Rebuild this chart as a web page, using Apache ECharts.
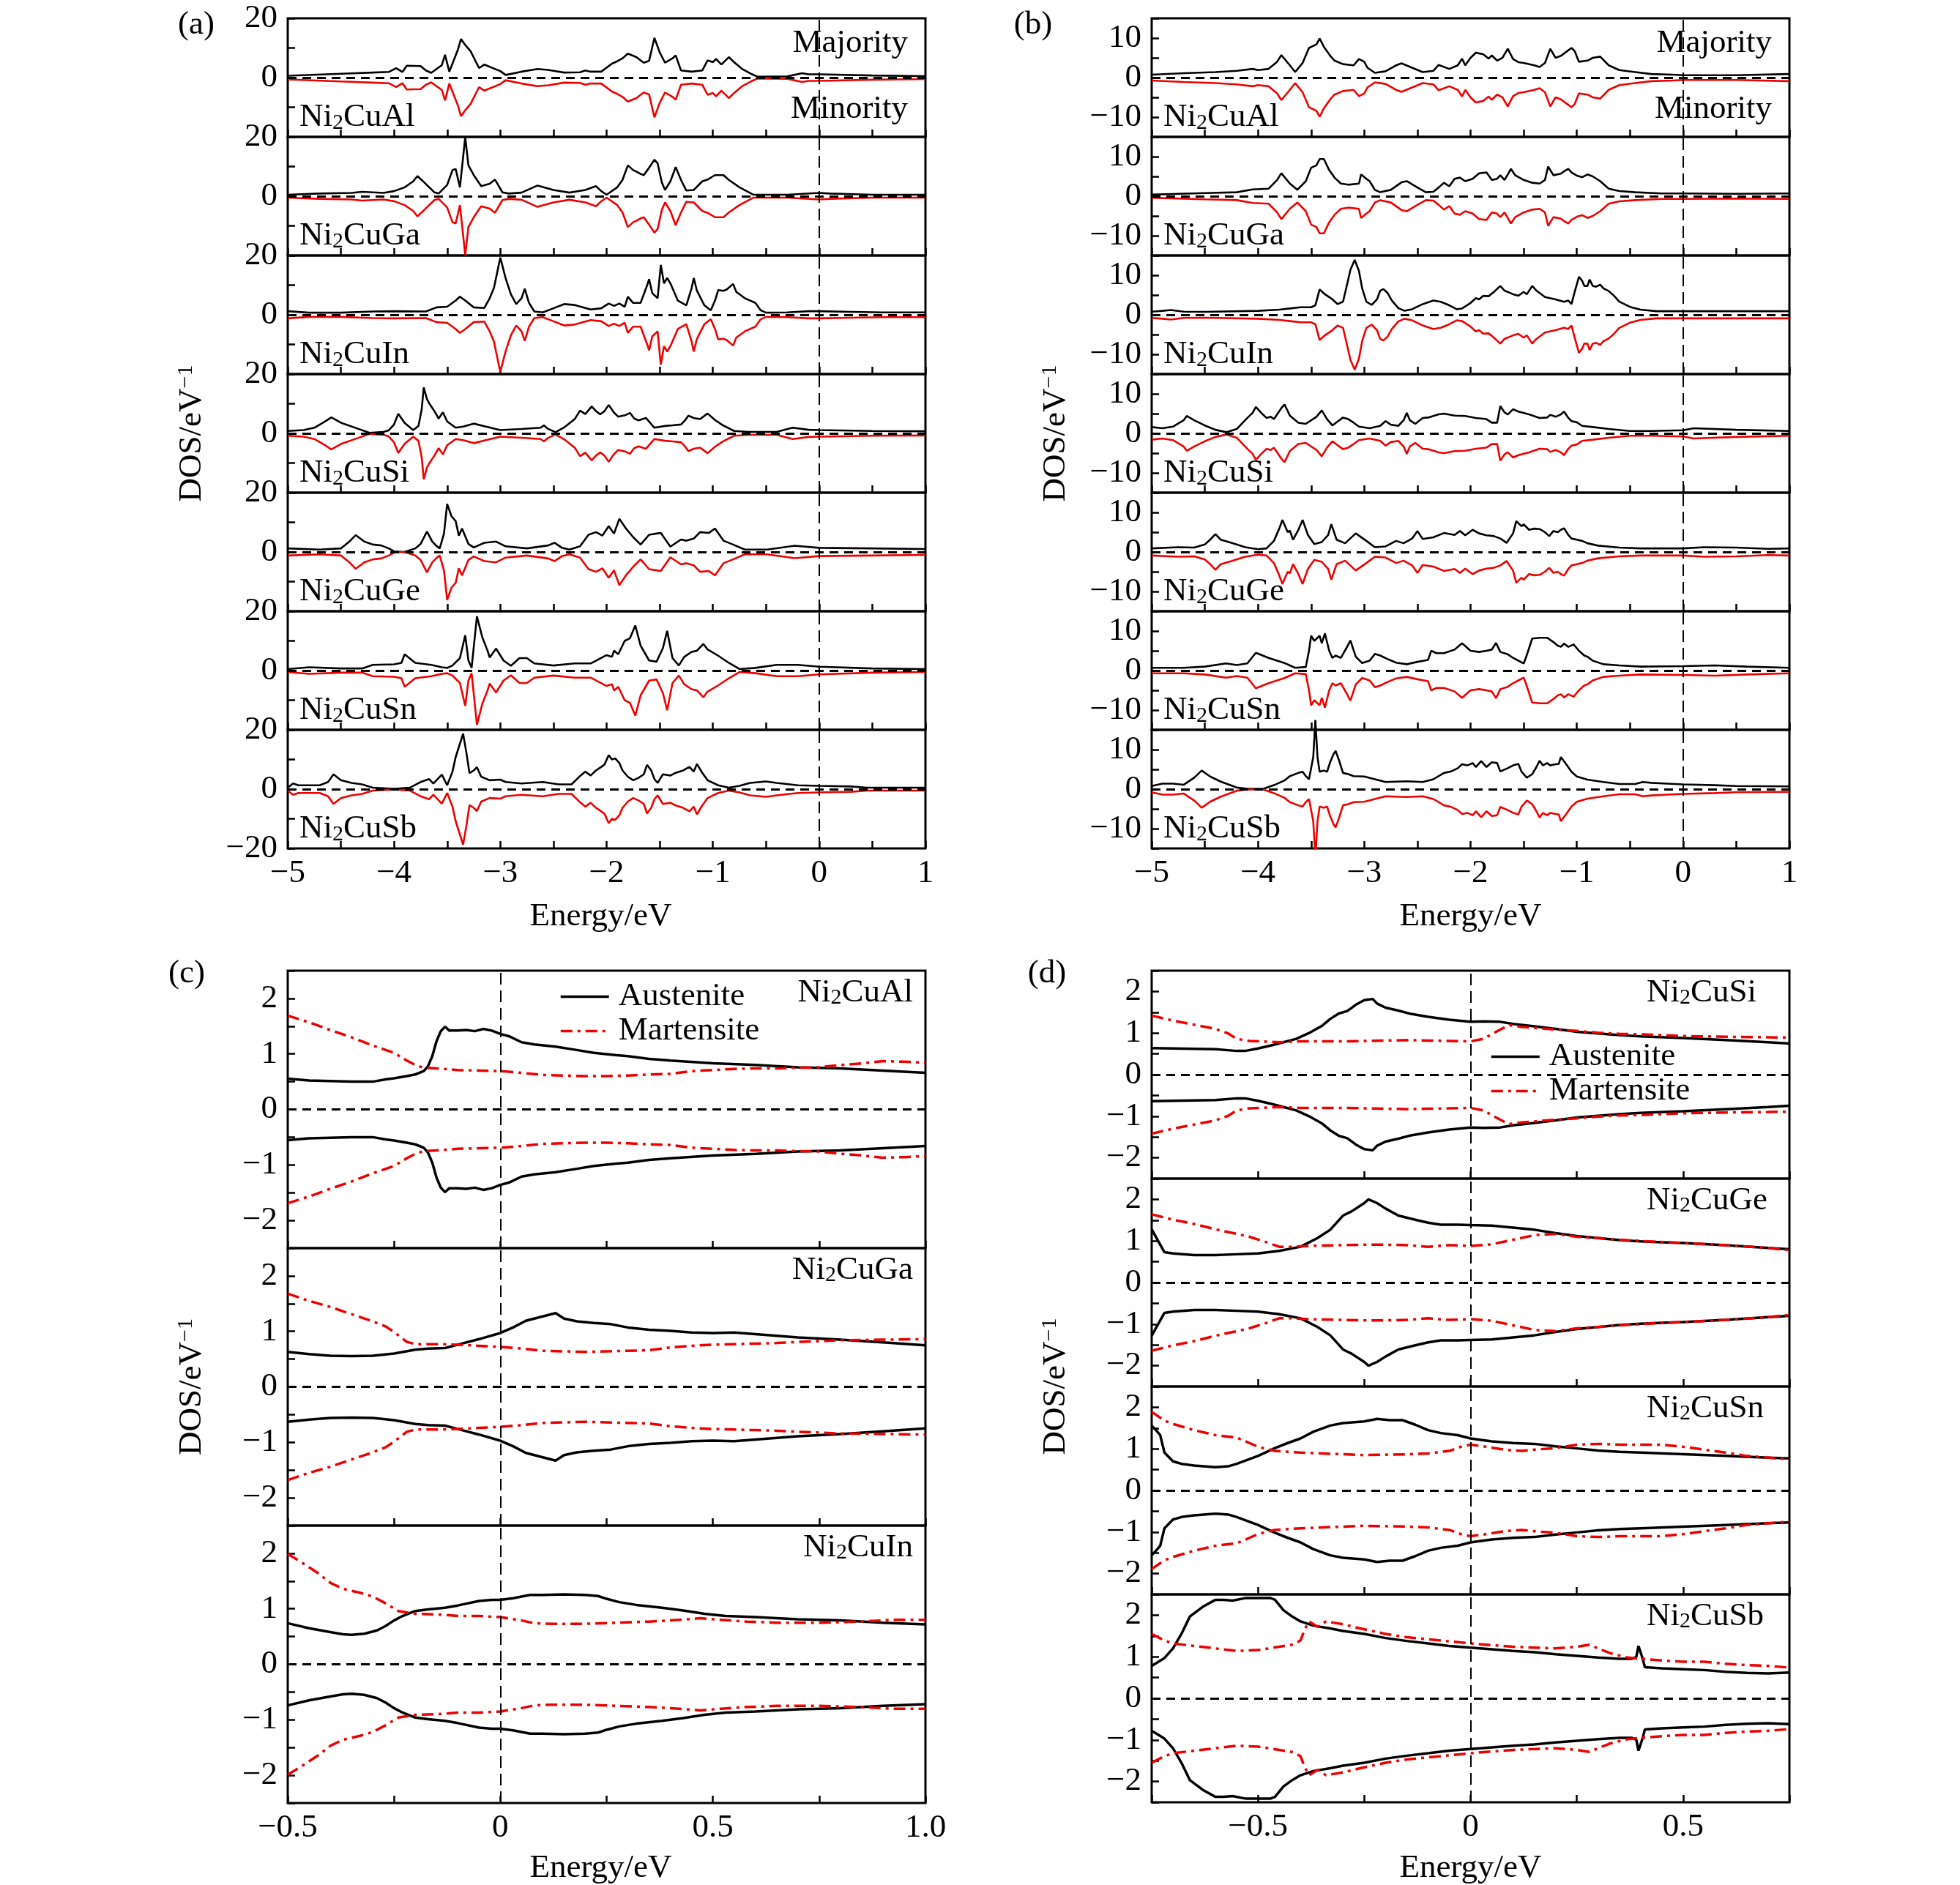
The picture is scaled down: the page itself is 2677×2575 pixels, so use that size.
<!DOCTYPE html>
<html><head><meta charset="utf-8">
<script src="https://cdn.jsdelivr.net/npm/echarts/dist/echarts.min.js"></script>
<style>html,body{margin:0;padding:0;background:#fff}#c{width:2677px;height:2575px}</style>
</head><body><div id="c"></div>
<script>
// ---------------- DATA ----------------
const compoundsAB = ['Al','Ga','In','Si','Ge','Sn','Sb'];
const compoundsC = ['Al','Ga','In'];
const compoundsD = ['Si','Ge','Sn','Sb'];

// tick labels
const xLabelsAB = [[-5,'\u22125'],[-4,'\u22124'],[-3,'\u22123'],[-2,'\u22122'],[-1,'\u22121'],[0,'0'],[1,'1']];
const xLabelsC = [[-0.5,'\u22120.5'],[0,'0'],[0.5,'0.5'],[1,'1.0']];
const xLabelsD = [[-0.5,'\u22120.5'],[0,'0'],[0.5,'0.5']];
const yLabelsA = [[20,'20'],[0,'0']];
const yLabelsABottom = [[20,'20'],[0,'0'],[-20,'\u221220']];
const yLabelsB = [[10,'10'],[0,'0'],[-10,'\u221210']];
const yLabelsCD = [[2,'2'],[1,'1'],[0,'0'],[-1,'\u22121'],[-2,'\u22122']];

// (a) majority-spin DOS (minority channel is its mirror image)
const A_Al = [[-5,0.6],[-4.5,1.3],[-4.2,1.7],[-4.05,1.9],[-3.98,3.2],[-3.92,1.9],[-3.88,4.0],[-3.75,3.9],[-3.7,2.4],[-3.65,1.6],[-3.55,4.2],[-3.52,7.7],[-3.48,2.0],[-3.4,9.3],[-3.37,13.0],[-3.33,11.0],[-3.28,8.9],[-3.2,3.2],[-3.15,4.4],[-3.0,2.2],[-2.95,0.9],[-2.8,2.0],[-2.65,2.9],[-2.55,2.6],[-2.4,1.7],[-2.25,1.8],[-2.2,2.4],[-2.15,2.0],[-2.05,2.0],[-1.95,4.7],[-1.9,5.5],[-1.85,6.5],[-1.8,8.1],[-1.72,6.9],[-1.65,5.0],[-1.6,5.7],[-1.55,13.4],[-1.5,8.5],[-1.45,5.0],[-1.38,6.5],[-1.35,7.5],[-1.3,2.4],[-1.2,2.0],[-1.1,2.4],[-1.05,5.8],[-1.0,5.2],[-0.97,6.3],[-0.92,4.4],[-0.85,6.9],[-0.8,5.2],[-0.72,2.8],[-0.63,1.1],[-0.58,0.3],[-0.3,0.4],[-0.16,1.5],[-0.1,1.1],[0,1.1],[0.5,0.7],[1,0.5]];
const A_Ga = [[-5,0.5],[-4.7,0.9],[-4.4,1.1],[-4.3,1.5],[-4.1,1.1],[-4.0,1.7],[-3.9,3.0],[-3.82,5.0],[-3.78,6.8],[-3.72,4.8],[-3.62,1.3],[-3.58,0.9],[-3.5,3.8],[-3.45,8.8],[-3.42,9.2],[-3.38,3.0],[-3.33,19.9],[-3.3,10.4],[-3.25,7.1],[-3.18,3.4],[-3.1,4.2],[-3.05,5.6],[-2.98,1.3],[-2.92,0.9],[-2.8,1.2],[-2.65,3.6],[-2.5,2.1],[-2.35,1.2],[-2.2,2.1],[-2.1,3.4],[-2.05,1.7],[-2.0,0.5],[-1.9,3.0],[-1.85,5.5],[-1.8,10.4],[-1.75,8.8],[-1.72,8.3],[-1.68,7.5],[-1.65,7.1],[-1.6,9.6],[-1.55,12.3],[-1.52,11.1],[-1.48,4.6],[-1.45,2.1],[-1.4,5.0],[-1.35,9.8],[-1.3,5.5],[-1.25,1.9],[-1.18,2.1],[-1.1,5.0],[-1.05,5.6],[-0.98,7.1],[-0.9,7.1],[-0.85,5.5],[-0.75,3.0],[-0.62,0.5],[-0.3,0.5],[0,1.1],[0.1,0.9],[0.5,0.5],[1,0.5]];
const A_In = [[-5,1.2],[-4.8,0.7],[-4.5,0.7],[-4.2,1.1],[-4.0,1.2],[-3.7,1.1],[-3.6,2.5],[-3.5,2.7],[-3.42,4.8],[-3.38,6.1],[-3.33,4.8],[-3.25,2.5],[-3.15,2.3],[-3.1,5.6],[-3.06,9.0],[-3.0,19.3],[-2.95,12.3],[-2.9,6.9],[-2.85,3.6],[-2.8,5.6],[-2.77,8.8],[-2.73,4.0],[-2.68,1.1],[-2.6,0.8],[-2.5,2.2],[-2.4,3.6],[-2.3,3.3],[-2.15,1.8],[-2.05,2.2],[-1.98,3.8],[-1.93,3.0],[-1.88,3.8],[-1.83,2.7],[-1.8,6.1],[-1.75,4.0],[-1.68,4.0],[-1.62,9.8],[-1.6,12.0],[-1.57,7.3],[-1.52,5.6],[-1.49,16.8],[-1.46,10.6],[-1.43,12.4],[-1.4,10.6],[-1.33,4.8],[-1.25,3.2],[-1.2,9.0],[-1.18,12.4],[-1.15,8.1],[-1.08,3.2],[-1.02,1.5],[-0.98,4.8],[-0.95,8.3],[-0.9,8.1],[-0.87,8.5],[-0.81,10.4],[-0.78,7.7],[-0.7,5.6],[-0.6,4.0],[-0.55,1.5],[-0.5,0.7],[-0.3,0.8],[-0.1,1.2],[0,1.2],[0.3,1.0],[0.6,0.8],[1,0.8]];
const A_Si = [[-5,0.8],[-4.85,1.1],[-4.75,1.9],[-4.65,4.0],[-4.59,5.4],[-4.5,3.6],[-4.35,1.7],[-4.23,0.2],[-4.1,0.5],[-4.05,1.0],[-4.0,3.0],[-3.96,6.6],[-3.9,3.5],[-3.82,1.1],[-3.77,2.5],[-3.74,8.0],[-3.72,15.5],[-3.69,11.5],[-3.67,10.2],[-3.62,7.5],[-3.58,5.0],[-3.54,7.1],[-3.5,4.0],[-3.42,1.9],[-3.35,2.3],[-3.25,3.3],[-3.15,2.4],[-3.0,1.1],[-2.8,1.5],[-2.62,1.9],[-2.59,2.7],[-2.55,1.5],[-2.48,0.4],[-2.4,2.0],[-2.3,4.8],[-2.25,7.7],[-2.2,6.5],[-2.14,9.1],[-2.1,7.5],[-2.06,6.4],[-2.02,7.5],[-1.98,9.6],[-1.93,7.0],[-1.89,5.6],[-1.82,6.2],[-1.78,6.9],[-1.74,5.0],[-1.7,4.4],[-1.63,5.2],[-1.55,1.9],[-1.45,2.5],[-1.38,2.7],[-1.3,3.0],[-1.26,4.5],[-1.23,6.0],[-1.18,5.2],[-1.12,4.8],[-1.05,6.7],[-0.98,4.5],[-0.91,2.8],[-0.8,0.8],[-0.66,0.5],[-0.4,0.5],[-0.25,1.9],[-0.1,1.2],[0,1.1],[0.5,0.8],[1,0.7]];
const A_Ge = [[-5,1.2],[-4.7,0.8],[-4.5,1.2],[-4.42,3.5],[-4.36,5.7],[-4.28,3.5],[-4.2,2.5],[-4.12,2.2],[-4.05,1.2],[-4.0,0.2],[-3.9,0.0],[-3.8,1.2],[-3.75,2.7],[-3.69,6.9],[-3.64,3.5],[-3.6,2.0],[-3.57,1.2],[-3.53,6.2],[-3.5,16.2],[-3.46,12.1],[-3.42,10.4],[-3.39,5.5],[-3.36,7.9],[-3.3,2.7],[-3.25,1.5],[-3.15,3.1],[-3.04,3.5],[-2.95,1.9],[-2.75,1.2],[-2.55,2.2],[-2.49,3.1],[-2.42,1.4],[-2.35,0.8],[-2.25,1.9],[-2.17,5.8],[-2.1,6.7],[-2.04,5.5],[-1.98,8.7],[-1.93,6.2],[-1.88,11.2],[-1.82,8.0],[-1.75,5.0],[-1.68,2.5],[-1.6,5.8],[-1.53,6.2],[-1.49,6.4],[-1.4,1.8],[-1.3,4.2],[-1.25,3.8],[-1.18,4.5],[-1.12,6.7],[-1.04,6.4],[-0.98,7.9],[-0.9,3.8],[-0.81,2.5],[-0.7,0.8],[-0.49,0.8],[-0.23,2.1],[0,1.4],[0.5,1.2],[1,1.0]];
const A_Sn = [[-5,0.5],[-4.8,1.1],[-4.5,0.7],[-4.3,0.7],[-4.2,1.9],[-4.0,2.1],[-3.93,2.6],[-3.9,5.5],[-3.8,2.6],[-3.65,1.9],[-3.55,1.1],[-3.5,0.9],[-3.45,1.7],[-3.38,4.2],[-3.33,11.9],[-3.3,3.4],[-3.27,0.9],[-3.22,18.3],[-3.17,11.3],[-3.12,6.7],[-3.1,4.4],[-3.04,7.4],[-2.97,3.4],[-2.9,1.6],[-2.82,4.2],[-2.75,4.2],[-2.68,2.4],[-2.5,1.7],[-2.3,2.4],[-2.15,2.4],[-2.0,5.2],[-1.95,4.6],[-1.93,6.7],[-1.89,5.5],[-1.83,10.0],[-1.78,10.9],[-1.73,15.2],[-1.68,8.4],[-1.6,3.4],[-1.53,3.0],[-1.47,7.6],[-1.43,13.4],[-1.38,4.2],[-1.32,1.7],[-1.27,4.6],[-1.2,6.3],[-1.15,6.7],[-1.09,9.0],[-1.05,7.1],[-0.95,5.0],[-0.85,2.6],[-0.75,0.5],[-0.6,0.9],[-0.4,1.9],[-0.2,1.9],[0,1.3],[0.5,0.7],[1,0.5]];
const A_Sb = [[-5,0.5],[-4.95,1.9],[-4.9,1.3],[-4.7,1.3],[-4.62,2.4],[-4.57,5.0],[-4.5,3.0],[-4.4,2.1],[-4.3,1.6],[-4.2,0.5],[-4.0,0.1],[-3.85,0.5],[-3.75,2.4],[-3.67,3.4],[-3.63,1.9],[-3.55,4.9],[-3.5,1.3],[-3.45,5.9],[-3.42,10.8],[-3.35,18.7],[-3.32,12.5],[-3.29,5.4],[-3.25,6.3],[-3.22,7.4],[-3.18,4.2],[-3.1,3.0],[-3.0,3.2],[-2.95,2.4],[-2.8,1.9],[-2.6,2.4],[-2.45,1.6],[-2.33,1.6],[-2.25,4.4],[-2.2,5.9],[-2.15,4.6],[-2.1,6.3],[-2.05,7.5],[-2.02,8.3],[-1.98,11.5],[-1.95,10.0],[-1.92,10.4],[-1.88,8.8],[-1.85,6.3],[-1.8,4.2],[-1.75,3.0],[-1.7,3.8],[-1.65,5.0],[-1.62,8.2],[-1.58,6.3],[-1.55,3.4],[-1.52,2.1],[-1.47,5.0],[-1.4,4.6],[-1.35,5.5],[-1.28,6.3],[-1.22,7.5],[-1.18,5.9],[-1.15,8.5],[-1.1,5.5],[-1.05,3.0],[-0.95,1.3],[-0.85,0.5],[-0.75,1.1],[-0.65,2.1],[-0.5,2.6],[-0.4,2.1],[-0.2,1.3],[0,1.1],[0.3,0.9],[0.45,0.5],[1,0.5]];

// (b) majority-spin DOS
const B_Al = [[-5,0.75],[-4.7,1.1],[-4.4,1.4],[-4.2,1.7],[-4.05,2.2],[-4.0,1.9],[-3.9,2.2],[-3.82,4.0],[-3.78,5.7],[-3.7,3.1],[-3.65,1.4],[-3.58,3.7],[-3.52,7.5],[-3.45,8.4],[-3.42,9.9],[-3.38,7.8],[-3.32,5.5],[-3.28,4.3],[-3.2,3.4],[-3.1,3.1],[-3.05,4.7],[-3.0,4.0],[-2.97,2.5],[-2.9,1.2],[-2.8,1.6],[-2.7,3.1],[-2.65,3.6],[-2.55,2.5],[-2.45,1.4],[-2.35,1.7],[-2.3,3.2],[-2.2,2.2],[-2.12,3.1],[-2.08,4.8],[-2.05,3.1],[-2.0,5.0],[-1.95,6.3],[-1.88,5.9],[-1.83,4.8],[-1.8,5.6],[-1.75,4.3],[-1.7,5.0],[-1.65,7.3],[-1.6,4.7],[-1.55,3.9],[-1.5,3.7],[-1.4,3.1],[-1.35,2.7],[-1.3,3.7],[-1.25,7.3],[-1.2,5.0],[-1.15,5.5],[-1.1,6.5],[-1.05,7.5],[-1.02,6.7],[-0.98,4.0],[-0.9,4.3],[-0.85,5.0],[-0.78,5.3],[-0.7,3.1],[-0.6,1.9],[-0.45,1.4],[-0.3,0.9],[-0.1,0.75],[0,0.6],[0.5,0.6],[1,0.9]];
const B_Ga = [[-5,0.4],[-4.5,0.8],[-4.2,1.0],[-4.05,1.7],[-3.9,1.9],[-3.82,4.1],[-3.78,5.8],[-3.7,3.2],[-3.63,1.6],[-3.55,3.8],[-3.5,7.2],[-3.45,7.8],[-3.42,9.4],[-3.38,9.4],[-3.33,6.6],[-3.28,4.7],[-3.22,3.2],[-3.15,2.9],[-3.05,3.2],[-3.03,5.5],[-2.98,4.4],[-2.95,3.8],[-2.9,1.6],[-2.85,1.0],[-2.75,1.6],[-2.65,3.5],[-2.6,3.8],[-2.5,2.2],[-2.42,1.0],[-2.35,1.1],[-2.3,2.2],[-2.25,3.4],[-2.2,2.5],[-2.15,4.4],[-2.1,4.7],[-2.05,3.8],[-1.98,4.4],[-1.92,5.8],[-1.85,6.0],[-1.8,4.1],[-1.75,4.4],[-1.72,5.3],[-1.68,4.1],[-1.65,5.5],[-1.62,6.9],[-1.58,5.3],[-1.5,4.1],[-1.42,3.4],[-1.35,3.2],[-1.3,4.1],[-1.27,7.5],[-1.22,5.3],[-1.15,5.7],[-1.12,6.3],[-1.08,6.9],[-1.05,6.0],[-1.0,5.2],[-0.95,4.8],[-0.9,5.5],[-0.85,5.0],[-0.78,3.8],[-0.7,1.9],[-0.6,1.3],[-0.45,1.0],[-0.2,0.7],[0,0.7],[0.5,0.6],[1,0.7]];
const B_In = [[-5,0.8],[-4.9,1.0],[-4.82,1.2],[-4.7,0.8],[-4.5,0.75],[-4.0,1.0],[-3.8,1.3],[-3.7,1.6],[-3.6,1.9],[-3.5,1.9],[-3.46,2.4],[-3.42,6.4],[-3.37,5.2],[-3.3,3.9],[-3.25,2.7],[-3.2,3.3],[-3.17,6.7],[-3.13,11.4],[-3.09,13.9],[-3.05,11.1],[-3.02,6.7],[-2.98,3.3],[-2.93,2.5],[-2.88,3.9],[-2.85,6.1],[-2.82,6.5],[-2.78,5.5],[-2.74,3.6],[-2.68,1.7],[-2.62,1.0],[-2.55,1.4],[-2.45,2.7],[-2.35,3.6],[-2.28,3.3],[-2.2,2.4],[-2.13,1.4],[-2.08,1.6],[-2.0,3.0],[-1.95,4.2],[-1.92,3.9],[-1.88,4.8],[-1.83,4.7],[-1.78,5.8],[-1.72,7.3],[-1.68,6.1],[-1.6,5.2],[-1.55,4.8],[-1.5,5.8],[-1.47,5.2],[-1.42,7.3],[-1.38,6.1],[-1.3,4.5],[-1.2,3.9],[-1.12,3.3],[-1.08,3.6],[-1.05,2.7],[-1.02,5.8],[-0.98,9.6],[-0.95,8.6],[-0.93,7.3],[-0.9,7.3],[-0.88,8.9],[-0.85,7.3],[-0.82,7.1],[-0.78,7.6],[-0.75,6.7],[-0.7,6.0],[-0.65,4.8],[-0.6,3.3],[-0.5,2.0],[-0.4,1.3],[-0.25,0.9],[0,0.9],[0.5,0.9],[1,0.9]];
const B_Si = [[-5,1.6],[-4.9,1.3],[-4.8,1.7],[-4.7,3.3],[-4.67,4.4],[-4.6,3.3],[-4.5,2.0],[-4.4,0.9],[-4.3,0.3],[-4.2,1.1],[-4.1,3.9],[-4.05,5.2],[-4.02,6.7],[-3.97,5.2],[-3.92,3.9],[-3.88,4.2],[-3.85,3.6],[-3.78,6.4],[-3.75,7.3],[-3.7,4.5],[-3.62,2.7],[-3.55,2.4],[-3.45,4.2],[-3.4,5.8],[-3.35,3.6],[-3.3,2.0],[-3.25,3.0],[-3.2,4.0],[-3.15,3.6],[-3.1,2.7],[-3.05,1.7],[-2.95,1.3],[-2.85,1.9],[-2.8,3.1],[-2.75,2.2],[-2.68,1.9],[-2.63,3.3],[-2.6,5.2],[-2.57,3.3],[-2.52,2.4],[-2.45,3.9],[-2.4,4.0],[-2.3,4.8],[-2.25,5.0],[-2.15,4.5],[-2.05,4.4],[-1.95,3.9],[-1.85,3.6],[-1.8,2.7],[-1.75,2.7],[-1.72,6.9],[-1.68,5.3],[-1.65,4.8],[-1.6,6.1],[-1.55,5.5],[-1.45,4.8],[-1.35,3.9],[-1.28,4.0],[-1.25,4.7],[-1.2,4.2],[-1.15,4.8],[-1.12,5.5],[-1.08,3.9],[-1.05,3.1],[-1.0,2.8],[-0.95,1.9],[-0.85,1.6],[-0.7,1.1],[-0.5,0.6],[-0.3,0.6],[0,0.8],[0.1,1.3],[0.5,0.9],[1,0.6]];
const B_Ge = [[-5,0.9],[-4.75,1.2],[-4.6,1.1],[-4.5,1.9],[-4.45,3.1],[-4.4,4.5],[-4.35,3.1],[-4.25,2.3],[-4.12,1.2],[-4.0,0.7],[-3.92,0.9],[-3.85,2.8],[-3.8,5.9],[-3.77,8.1],[-3.72,5.0],[-3.7,5.4],[-3.67,3.1],[-3.62,5.6],[-3.58,8.1],[-3.53,4.3],[-3.47,2.0],[-3.4,2.5],[-3.34,4.3],[-3.31,7.0],[-3.26,3.1],[-3.18,2.2],[-3.08,4.7],[-2.98,2.8],[-2.9,1.2],[-2.8,1.4],[-2.7,2.8],[-2.63,2.2],[-2.55,3.4],[-2.5,5.3],[-2.45,3.3],[-2.35,3.7],[-2.25,4.8],[-2.15,4.3],[-2.1,5.3],[-2.05,4.2],[-1.98,5.6],[-1.92,4.7],[-1.85,4.2],[-1.78,4.0],[-1.72,3.4],[-1.66,2.3],[-1.6,4.7],[-1.57,7.8],[-1.52,6.5],[-1.5,7.0],[-1.45,5.6],[-1.4,5.9],[-1.35,5.8],[-1.3,5.0],[-1.26,4.0],[-1.22,5.3],[-1.18,5.0],[-1.15,5.6],[-1.12,6.0],[-1.08,4.3],[-1.05,3.4],[-1.0,3.1],[-0.95,2.8],[-0.9,2.2],[-0.8,1.6],[-0.6,1.1],[-0.4,0.9],[0,0.9],[0.2,1.2],[0.5,1.1],[0.8,0.8],[1,0.9]];
const B_Sn = [[-5,0.7],[-4.7,0.7],[-4.5,1.0],[-4.3,1.8],[-4.2,1.4],[-4.1,1.8],[-4.02,4.5],[-3.9,3.2],[-3.75,1.9],[-3.65,0.7],[-3.55,0.9],[-3.52,5.0],[-3.5,8.8],[-3.47,7.5],[-3.42,8.8],[-3.4,6.9],[-3.37,9.4],[-3.33,5.0],[-3.3,3.2],[-3.27,3.8],[-3.22,3.2],[-3.17,5.6],[-3.13,7.6],[-3.08,3.5],[-3.02,1.9],[-2.95,2.5],[-2.9,4.2],[-2.85,3.8],[-2.78,2.9],[-2.7,2.0],[-2.6,1.6],[-2.5,2.2],[-2.4,2.7],[-2.37,5.0],[-2.32,4.4],[-2.25,4.4],[-2.15,5.3],[-2.08,6.9],[-2.0,5.0],[-1.92,4.7],[-1.85,5.0],[-1.8,5.3],[-1.76,7.0],[-1.72,4.7],[-1.65,4.1],[-1.6,3.2],[-1.55,2.5],[-1.5,1.8],[-1.48,3.2],[-1.45,5.6],[-1.42,8.1],[-1.35,8.3],[-1.28,8.3],[-1.22,7.2],[-1.18,6.3],[-1.15,6.0],[-1.12,6.8],[-1.08,6.0],[-1.03,6.6],[-0.98,5.0],[-0.93,3.8],[-0.9,3.5],[-0.85,2.5],[-0.75,1.6],[-0.6,1.3],[-0.4,1.0],[0,1.1],[0.3,1.3],[0.6,1.0],[1,0.7]];
const B_Sb = [[-5,0.8],[-4.9,1.4],[-4.8,1.4],[-4.7,1.1],[-4.6,2.9],[-4.53,4.7],[-4.45,3.2],[-4.35,1.9],[-4.2,0.4],[-4.1,0.1],[-3.95,0.1],[-3.85,1.0],[-3.75,2.2],[-3.7,3.3],[-3.62,4.1],[-3.58,4.4],[-3.55,3.3],[-3.52,2.5],[-3.48,8.1],[-3.46,17.5],[-3.44,8.1],[-3.42,4.4],[-3.38,4.7],[-3.35,4.4],[-3.32,6.9],[-3.29,8.8],[-3.27,9.7],[-3.24,7.5],[-3.2,4.1],[-3.15,3.8],[-3.1,3.3],[-3.0,3.2],[-2.9,2.5],[-2.8,1.8],[-2.6,2.0],[-2.45,1.8],[-2.35,2.5],[-2.25,4.1],[-2.18,4.5],[-2.12,5.3],[-2.08,6.3],[-2.03,6.0],[-1.98,6.6],[-1.95,5.6],[-1.9,7.1],[-1.85,5.6],[-1.8,6.8],[-1.75,6.6],[-1.72,4.5],[-1.65,5.3],[-1.6,6.0],[-1.55,6.4],[-1.52,4.4],[-1.47,2.9],[-1.42,3.8],[-1.38,5.6],[-1.35,7.2],[-1.32,6.0],[-1.28,6.6],[-1.25,6.0],[-1.2,6.3],[-1.17,6.4],[-1.15,8.1],[-1.1,6.3],[-1.05,4.4],[-1.0,3.2],[-0.9,2.4],[-0.75,1.8],[-0.6,1.3],[-0.45,1.3],[-0.38,1.8],[-0.3,1.6],[-0.15,1.4],[0,1.2],[0.3,1.0],[0.5,0.8],[1,0.7]];

// (c) spin-up DOS near E_F, austenite / martensite
const C_Al_aus = [[-0.5,0.555],[-0.45,0.52],[-0.4,0.51],[-0.35,0.5],[-0.3,0.5],[-0.27,0.54],[-0.25,0.56],[-0.22,0.6],[-0.2,0.63],[-0.18,0.69],[-0.17,0.78],[-0.16,0.96],[-0.15,1.23],[-0.14,1.41],[-0.13,1.49],[-0.12,1.42],[-0.1,1.42],[-0.08,1.43],[-0.06,1.41],[-0.04,1.45],[-0.02,1.42],[0,1.36],[0.02,1.32],[0.05,1.21],[0.08,1.17],[0.13,1.13],[0.18,1.07],[0.22,1.02],[0.27,0.98],[0.3,0.96],[0.35,0.91],[0.4,0.88],[0.5,0.83],[0.6,0.8],[0.7,0.76],[0.8,0.74],[0.9,0.7],[1.0,0.66]];
const C_Al_mar = [[-0.5,1.69],[-0.45,1.57],[-0.4,1.43],[-0.35,1.3],[-0.3,1.15],[-0.25,1.02],[-0.22,0.88],[-0.2,0.8],[-0.18,0.75],[-0.15,0.74],[-0.1,0.71],[-0.05,0.7],[0,0.69],[0.05,0.66],[0.1,0.62],[0.15,0.61],[0.2,0.6],[0.25,0.6],[0.3,0.61],[0.35,0.63],[0.4,0.64],[0.45,0.69],[0.5,0.71],[0.55,0.73],[0.6,0.74],[0.65,0.74],[0.7,0.75],[0.75,0.76],[0.8,0.8],[0.85,0.83],[0.9,0.87],[0.95,0.86],[1.0,0.84]];
const C_Ga_aus = [[-0.5,0.63],[-0.45,0.59],[-0.4,0.56],[-0.35,0.555],[-0.3,0.56],[-0.25,0.6],[-0.2,0.67],[-0.17,0.69],[-0.13,0.7],[-0.1,0.76],[-0.05,0.86],[0,0.97],[0.03,1.07],[0.06,1.19],[0.1,1.27],[0.13,1.33],[0.15,1.23],[0.18,1.18],[0.22,1.15],[0.26,1.13],[0.3,1.07],[0.35,1.03],[0.4,1.01],[0.45,0.98],[0.5,0.97],[0.55,0.98],[0.6,0.95],[0.7,0.89],[0.8,0.85],[0.9,0.8],[1.0,0.75]];
const C_Ga_mar = [[-0.5,1.68],[-0.45,1.55],[-0.4,1.44],[-0.35,1.31],[-0.3,1.18],[-0.27,1.09],[-0.25,0.99],[-0.22,0.81],[-0.2,0.77],[-0.15,0.77],[-0.1,0.76],[-0.05,0.74],[0,0.72],[0.05,0.69],[0.1,0.65],[0.15,0.64],[0.2,0.63],[0.25,0.64],[0.3,0.65],[0.35,0.66],[0.4,0.71],[0.45,0.74],[0.5,0.76],[0.55,0.77],[0.6,0.78],[0.65,0.79],[0.7,0.81],[0.8,0.84],[0.9,0.85],[1.0,0.86]];
const C_In_aus = [[-0.5,0.74],[-0.45,0.65],[-0.4,0.58],[-0.37,0.54],[-0.35,0.53],[-0.32,0.55],[-0.29,0.61],[-0.27,0.69],[-0.25,0.79],[-0.23,0.87],[-0.2,0.96],[-0.17,0.99],[-0.13,1.02],[-0.1,1.06],[-0.05,1.14],[-0.02,1.16],[0,1.16],[0.03,1.19],[0.07,1.25],[0.1,1.25],[0.15,1.26],[0.2,1.25],[0.23,1.23],[0.25,1.18],[0.28,1.12],[0.32,1.07],[0.38,1.02],[0.43,0.97],[0.48,0.91],[0.53,0.87],[0.6,0.85],[0.7,0.81],[0.8,0.79],[0.9,0.75],[1.0,0.72]];
const C_In_mar = [[-0.5,1.99],[-0.47,1.85],[-0.43,1.65],[-0.4,1.47],[-0.37,1.36],[-0.33,1.29],[-0.3,1.22],[-0.27,1.1],[-0.24,0.96],[-0.2,0.91],[-0.15,0.9],[-0.1,0.87],[-0.05,0.87],[0,0.85],[0.05,0.79],[0.08,0.74],[0.12,0.73],[0.2,0.73],[0.28,0.75],[0.35,0.77],[0.42,0.8],[0.47,0.83],[0.52,0.8],[0.58,0.77],[0.65,0.75],[0.75,0.75],[0.85,0.77],[0.92,0.8],[1.0,0.8]];

// (d)
const D_Si_aus = [[-0.75,0.64],[-0.7,0.63],[-0.65,0.62],[-0.6,0.61],[-0.55,0.57],[-0.53,0.57],[-0.5,0.63],[-0.47,0.7],[-0.44,0.78],[-0.41,0.86],[-0.38,1.0],[-0.35,1.17],[-0.33,1.34],[-0.31,1.47],[-0.29,1.53],[-0.27,1.68],[-0.25,1.79],[-0.23,1.82],[-0.22,1.71],[-0.2,1.61],[-0.17,1.54],[-0.14,1.46],[-0.1,1.39],[-0.05,1.32],[0,1.27],[0.03,1.28],[0.07,1.27],[0.1,1.22],[0.15,1.16],[0.2,1.1],[0.25,1.03],[0.3,0.99],[0.35,0.95],[0.4,0.92],[0.5,0.88],[0.6,0.83],[0.7,0.78],[0.75,0.75]];
const D_Si_mar = [[-0.75,1.42],[-0.7,1.3],[-0.65,1.2],[-0.6,1.1],[-0.57,0.99],[-0.55,0.86],[-0.52,0.81],[-0.45,0.78],[-0.4,0.8],[-0.3,0.8],[-0.2,0.82],[-0.15,0.83],[-0.1,0.82],[-0.05,0.81],[0,0.8],[0.03,0.86],[0.06,1.03],[0.09,1.19],[0.12,1.15],[0.18,1.1],[0.25,1.05],[0.3,1.01],[0.35,0.98],[0.4,0.97],[0.5,0.93],[0.6,0.91],[0.7,0.9],[0.75,0.89]];
const D_Ge_aus = [[-0.75,1.28],[-0.72,0.73],[-0.7,0.7],[-0.65,0.66],[-0.6,0.66],[-0.55,0.68],[-0.5,0.7],[-0.45,0.76],[-0.4,0.86],[-0.36,1.07],[-0.33,1.27],[-0.3,1.61],[-0.28,1.71],[-0.25,1.91],[-0.24,2.0],[-0.22,1.91],[-0.2,1.78],[-0.17,1.61],[-0.13,1.51],[-0.1,1.44],[-0.07,1.39],[-0.03,1.39],[0,1.38],[0.05,1.37],[0.1,1.32],[0.15,1.27],[0.2,1.19],[0.25,1.12],[0.3,1.07],[0.35,1.02],[0.4,0.99],[0.45,0.97],[0.5,0.95],[0.6,0.9],[0.7,0.83],[0.75,0.8]];
const D_Ge_mar = [[-0.75,1.64],[-0.7,1.51],[-0.65,1.41],[-0.6,1.28],[-0.55,1.17],[-0.52,1.1],[-0.48,0.97],[-0.45,0.86],[-0.42,0.86],[-0.38,0.88],[-0.3,0.9],[-0.25,0.91],[-0.2,0.91],[-0.15,0.9],[-0.1,0.86],[-0.05,0.9],[0,0.88],[0.05,0.92],[0.1,1.03],[0.15,1.14],[0.2,1.17],[0.25,1.1],[0.3,1.07],[0.35,1.03],[0.4,1.0],[0.5,0.95],[0.6,0.9],[0.7,0.83],[0.75,0.78]];
const D_Sn_aus = [[-0.75,1.56],[-0.74,1.45],[-0.73,1.33],[-0.72,0.91],[-0.7,0.7],[-0.68,0.64],[-0.65,0.6],[-0.6,0.56],[-0.57,0.58],[-0.55,0.64],[-0.5,0.83],[-0.46,1.02],[-0.43,1.14],[-0.4,1.25],[-0.37,1.41],[-0.33,1.56],[-0.3,1.62],[-0.25,1.66],[-0.22,1.72],[-0.19,1.69],[-0.16,1.69],[-0.13,1.58],[-0.1,1.45],[-0.07,1.38],[-0.03,1.33],[0,1.25],[0.05,1.18],[0.1,1.14],[0.15,1.12],[0.2,1.06],[0.25,1.01],[0.3,0.96],[0.35,0.93],[0.4,0.91],[0.5,0.87],[0.6,0.83],[0.7,0.79],[0.75,0.77]];
const D_Sn_mar = [[-0.75,1.89],[-0.72,1.68],[-0.7,1.6],[-0.65,1.45],[-0.6,1.33],[-0.55,1.27],[-0.52,1.14],[-0.5,1.05],[-0.46,0.95],[-0.4,0.91],[-0.3,0.87],[-0.25,0.85],[-0.15,0.87],[-0.1,0.89],[-0.05,0.95],[-0.02,1.06],[0,1.1],[0.03,1.06],[0.08,0.98],[0.12,0.95],[0.15,0.98],[0.2,1.02],[0.25,1.1],[0.3,1.12],[0.35,1.1],[0.4,1.1],[0.45,1.1],[0.5,1.05],[0.55,0.98],[0.6,0.91],[0.65,0.83],[0.7,0.79],[0.75,0.75]];
const D_Sb_aus = [[-0.75,0.78],[-0.72,0.97],[-0.7,1.2],[-0.68,1.55],[-0.66,1.97],[-0.63,2.2],[-0.6,2.37],[-0.58,2.37],[-0.56,2.35],[-0.53,2.41],[-0.5,2.41],[-0.47,2.41],[-0.46,2.37],[-0.44,2.12],[-0.42,1.97],[-0.4,1.85],[-0.37,1.75],[-0.33,1.68],[-0.3,1.62],[-0.25,1.55],[-0.2,1.45],[-0.15,1.38],[-0.1,1.32],[-0.05,1.26],[0,1.22],[0.05,1.18],[0.1,1.14],[0.15,1.11],[0.2,1.06],[0.25,1.02],[0.3,0.98],[0.35,0.95],[0.38,0.95],[0.39,1.0],[0.395,1.26],[0.405,0.95],[0.41,0.75],[0.45,0.72],[0.5,0.7],[0.55,0.68],[0.6,0.64],[0.65,0.61],[0.7,0.6],[0.75,0.62]];
const D_Sb_mar = [[-0.75,1.55],[-0.72,1.39],[-0.7,1.32],[-0.65,1.26],[-0.6,1.2],[-0.55,1.14],[-0.5,1.16],[-0.45,1.24],[-0.42,1.29],[-0.4,1.39],[-0.39,1.66],[-0.38,1.85],[-0.36,1.72],[-0.34,1.85],[-0.3,1.78],[-0.25,1.66],[-0.2,1.55],[-0.15,1.47],[-0.1,1.42],[-0.05,1.37],[0,1.32],[0.05,1.28],[0.1,1.24],[0.15,1.22],[0.2,1.2],[0.25,1.24],[0.28,1.29],[0.3,1.2],[0.33,1.08],[0.37,0.98],[0.4,0.95],[0.45,0.91],[0.5,0.88],[0.55,0.88],[0.6,0.83],[0.65,0.8],[0.7,0.78],[0.75,0.74]];

// ---------------- CHART ----------------
const FONT = '"Liberation Serif", "DejaVu Serif", serif';
const FS = 45, FS_SMALL = 30;
const RED = '#ee0000';
const grid = [], xAxis = [], yAxis = [], series = [], graphic = [];
const mirror = d => d.map(p => [p[0], -p[1]]);
const labeler = list => v => { const h = list.find(l => Math.abs(l[0] - v) < 1e-6); return h ? h[1] : ''; };

function addGrid(left, top, width, height, xr, yr, showX) {
  const gi = grid.length;
  grid.push({left, top, width, height, show: true, borderColor: '#000', borderWidth: 3,
    backgroundColor: 'rgba(0,0,0,0)', containLabel: false, outerBoundsMode: 'none'});
  const tick = {show: true, inside: true, length: 10, lineStyle: {color: '#000', width: 2.5}};
  xAxis.push({type: 'value', gridIndex: gi, min: xr.min, max: xr.max, interval: xr.interval,
    axisLine: {show: false, onZero: false}, splitLine: {show: false}, axisTick: tick,
    axisLabel: {show: showX, margin: 12, color: '#000', fontSize: FS, fontFamily: FONT, formatter: labeler(xr.labels)}});
  yAxis.push({type: 'value', gridIndex: gi, min: yr.min, max: yr.max, interval: yr.interval,
    axisLine: {show: false, onZero: false}, splitLine: {show: false}, axisTick: tick,
    axisLabel: {show: true, margin: 14, color: '#000', fontSize: FS, fontFamily: FONT, formatter: labeler(yr.labels)}});
  return gi;
}
const zeroMarks = {silent: true, symbol: ['none', 'none'], animation: false, label: {show: false},
  emphasis: {disabled: true},
  data: [{yAxis: 0, lineStyle: {color: '#000', width: 3, type: [12, 8]}},
         {xAxis: 0, lineStyle: {color: '#000', width: 2, type: [16, 8]}}]};
function addLine(gi, name, data, color, width, dash, marks, clip) {
  const s = {type: 'line', name, xAxisIndex: gi, yAxisIndex: gi, data, showSymbol: false, symbol: 'none',
    animation: false, clip: clip !== false, silent: true, emphasis: {disabled: true},
    lineStyle: {color, width, type: dash || 'solid'}, itemStyle: {color}};
  if (marks) s.markLine = zeroMarks;
  series.push(s);
}

const richSub = {
  n: {fontSize: FS, fontFamily: FONT, fill: '#000', color: '#000', lineHeight: FS},
  s: {fontSize: FS_SMALL, fontFamily: FONT, fill: '#000', color: '#000', lineHeight: FS_SMALL, padding: [23, 0, 0, 0], verticalAlign: 'bottom'}
};
const richSup = {
  n: {fontSize: FS, fontFamily: FONT, fill: '#000', color: '#000', lineHeight: FS},
  s: {fontSize: FS_SMALL, fontFamily: FONT, fill: '#000', color: '#000', lineHeight: FS_SMALL, padding: [0, 0, 23, 0], verticalAlign: 'top'}
};
function txt(x, y, text, o) {
  o = o || {};
  const align = o.align || 'center', va = o.va || 'middle';
  const style = {text, fill: '#000', font: FS + 'px ' + FONT, fontSize: FS, fontFamily: FONT,
    align, textAlign: align, verticalAlign: va, textVerticalAlign: va};
  if (o.rich) style.rich = o.rich;
  graphic.push({type: 'text', x, y, rotation: o.rot || 0, z: 100, silent: true, style});
}
const compLabel = el => '{n|Ni}{s|2}{n|Cu' + el + '}';

// layout
const AL = 393, BL = 1573, W = 871, TOP_AB = 25, H_AB = 162;
const TOP_CD = 1326, H_C = 379, H_D = 284;

const dataA = [A_Al, A_Ga, A_In, A_Si, A_Ge, A_Sn, A_Sb];
const dataB = [B_Al, B_Ga, B_In, B_Si, B_Ge, B_Sn, B_Sb];
const xAB = {min: -5, max: 1, interval: 0.5, labels: xLabelsAB};

compoundsAB.forEach((el, i) => {
  const top = TOP_AB + i * H_AB, last = i === compoundsAB.length - 1;
  // panel (a)
  let gi = addGrid(AL, top, W, H_AB, xAB, {min: -20, max: 20, interval: 10, labels: last ? yLabelsABottom : yLabelsA}, last);
  addLine(gi, 'Majority', dataA[i], '#000', 2.6, null, true);
  addLine(gi, 'Minority', mirror(dataA[i]), RED, 2.6, null, false);
  txt(AL + 16, top + H_AB - 4, compLabel(el), {align: 'left', va: 'bottom', rich: richSub});
  // panel (b)
  gi = addGrid(BL, top, W, H_AB, xAB, {min: -15, max: 15, interval: 5, labels: yLabelsB}, last);
  addLine(gi, 'Majority', dataB[i], '#000', 2.6, null, true, el === 'Sb' ? false : true);
  addLine(gi, 'Minority', mirror(dataB[i]), RED, 2.6, null, false);
  txt(BL + 16, top + H_AB - 4, compLabel(el), {align: 'left', va: 'bottom', rich: richSub});
});

const MART_DASH = [16, 7, 4, 7];
const dataC = [[C_Al_aus, C_Al_mar], [C_Ga_aus, C_Ga_mar], [C_In_aus, C_In_mar]];
compoundsC.forEach((el, i) => {
  const top = TOP_CD + i * H_C, last = i === compoundsC.length - 1;
  const gi = addGrid(AL, top, W, H_C, {min: -0.5, max: 1, interval: 0.25, labels: xLabelsC},
    {min: -2.5, max: 2.5, interval: 0.5, labels: yLabelsCD}, last);
  addLine(gi, 'Austenite', dataC[i][0], '#000', 3.5, null, true);
  addLine(gi, 'Austenite', mirror(dataC[i][0]), '#000', 3.5, null, false);
  addLine(gi, 'Martensite', dataC[i][1], RED, 3.5, MART_DASH, false);
  addLine(gi, 'Martensite', mirror(dataC[i][1]), RED, 3.5, MART_DASH, false);
  txt(AL + W - 17, top + 30, compLabel(el), {align: 'right', va: 'middle', rich: richSub});
});
const dataD = [[D_Si_aus, D_Si_mar], [D_Ge_aus, D_Ge_mar], [D_Sn_aus, D_Sn_mar], [D_Sb_aus, D_Sb_mar]];
compoundsD.forEach((el, i) => {
  const top = TOP_CD + i * H_D, last = i === compoundsD.length - 1;
  const gi = addGrid(BL, top, W, H_D, {min: -0.75, max: 0.75, interval: 0.25, labels: xLabelsD},
    {min: -2.5, max: 2.5, interval: 0.5, labels: yLabelsCD}, last);
  addLine(gi, 'Austenite', dataD[i][0], '#000', 3.5, null, true);
  addLine(gi, 'Austenite', mirror(dataD[i][0]), '#000', 3.5, null, false);
  addLine(gi, 'Martensite', dataD[i][1], RED, 3.5, MART_DASH, false);
  addLine(gi, 'Martensite', mirror(dataD[i][1]), RED, 3.5, MART_DASH, false);
  txt(BL + 676, top + 30, compLabel(el), {align: 'left', va: 'middle', rich: richSub});
});

// panel texts
txt(268, 34, '(a)'); txt(1411, 34, '(b)'); txt(255, 1330, '(c)'); txt(1430, 1330, '(d)');
txt(AL + W - 24, TOP_AB + 34, 'Majority', {align: 'right'});
txt(AL + W - 24, TOP_AB + H_AB - 38, 'Minority', {align: 'right'});
txt(BL + W - 24, TOP_AB + 34, 'Majority', {align: 'right'});
txt(BL + W - 24, TOP_AB + H_AB - 38, 'Minority', {align: 'right'});
const yTitle = '{n|DOS/eV}{s|\u22121}';
txt(262, TOP_AB + 7 * H_AB / 2, yTitle, {rot: Math.PI / 2, rich: richSup});
txt(1442, TOP_AB + 7 * H_AB / 2, yTitle, {rot: Math.PI / 2, rich: richSup});
txt(262, TOP_CD + 3 * H_C / 2, yTitle, {rot: Math.PI / 2, rich: richSup});
txt(1442, TOP_CD + 4 * H_D / 2, yTitle, {rot: Math.PI / 2, rich: richSup});
txt(AL + W / 2 - 8, 1252, 'Energy/eV'); txt(BL + W / 2, 1252, 'Energy/eV');
txt(AL + W / 2 - 8, 2552, 'Energy/eV'); txt(BL + W / 2, 2552, 'Energy/eV');

const legendBase = {data: ['Austenite', 'Martensite'], orient: 'vertical', itemWidth: 66, itemHeight: 20,
  itemGap: 0, selectedMode: false, padding: 0,
  itemStyle: {opacity: 0, borderWidth: 0},
  lineStyle: {width: 3.5},
  textStyle: {fontSize: FS, fontFamily: FONT, color: '#000', lineHeight: 47, padding: [0, 0, 0, 8]}};
const legend = [
  Object.assign({}, legendBase, {left: 764, top: 1338}),
  Object.assign({}, legendBase, {left: 2035, top: 1420})
];

const chart = echarts.init(document.getElementById('c'), null, {renderer: 'canvas'});
chart.setOption({backgroundColor: '#fff', animation: false, grid, xAxis, yAxis, series, graphic, legend});
</script></body></html>
